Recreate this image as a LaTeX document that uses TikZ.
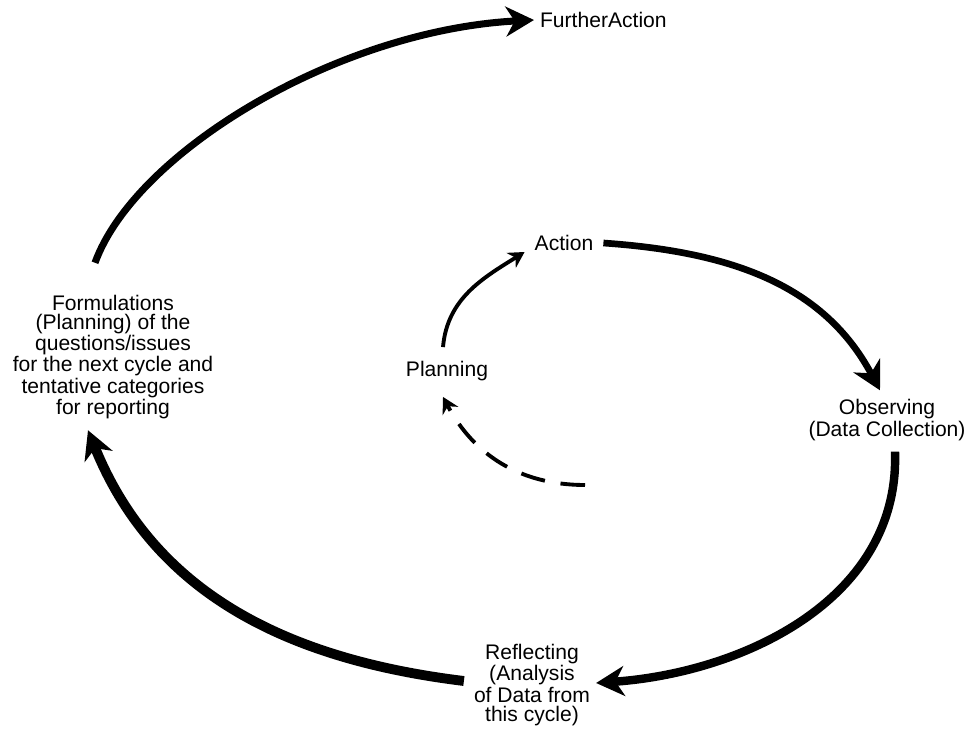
\documentclass[tikz,border=0pt]{standalone}
\usepackage{fontspec}
\setmainfont{Liberation Sans}
\usetikzlibrary{arrows.meta,calc}
\begin{document}
\begin{tikzpicture}[x=0.02cm,y=0.02cm,
  every node/.style={font=\fontsize{12}{10.8}\selectfont,align=center,inner sep=1pt},
  cyc/.style={line width=#1,line cap=butt,-{Stealth[length=16pt,width=17pt,inset=5pt]}},
  inner/.style={line width=2.2pt,-{Stealth[length=9pt,width=10pt,inset=3pt]}}]

\useasboundingbox (0,0) rectangle (974,731);

\node[anchor=west] (further) at (538,711) {FurtherAction};
\node (form) at (113,374) {Formulations\\(Planning) of the\\questions/issues\\for the next cycle and\\tentative categories\\for reporting};
\node (act) at (564,488) {Action};
\node (plan) at (447,360) {Planning};
\node (obs) at (887,311) {Observing\\(Data Collection)};
\node (refl) at (532,46) {Reflecting\\(Analysis\\of Data from\\this cycle)};
\coordinate (tail) at (585,246);

% outer cycle
\draw[cyc=4pt] ($(form.north)+(-18,30)$) to[out=70,in=183,out looseness=0.6,in looseness=1] ($(further.west)+(-4,0)$);
\draw[cyc=5.6pt] ($(refl.west)+(-8,4)$) to[out=173,in=-68] ($(form.south)+(-25,-9)$);

% inner cycle
\draw[cyc=3.8pt] ($(act.east)+(8,0)$) to[out=-4,in=118] ($(obs.north)+(-7,7)$);
\draw[cyc=4.8pt] ($(obs.south)+(8,-9)$) to[out=-88,in=4] ($(refl.east)+(4,2)$);
\draw[inner] ($(plan.north)+(-4,12)$) to[out=85,in=212] ($(act.west)+(-8,-9)$);
\draw[inner,dashed,dash pattern=on 14pt off 9pt] (tail) to[out=180,in=-62] ($(plan.south)+(-4,-14)$);

\end{tikzpicture}
\end{document}
